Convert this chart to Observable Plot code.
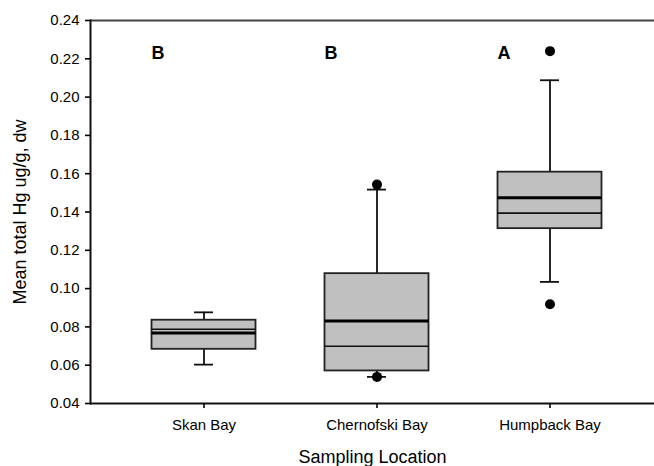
<!DOCTYPE html>
<html>
<head>
<meta charset="utf-8">
<script src="https://cdn.jsdelivr.net/npm/d3@7"></script>
<script src="https://cdn.jsdelivr.net/npm/@observablehq/plot@0.6"></script>
<style>
  html, body { margin: 0; padding: 0; background: white; }
</style>
</head>
<body>
<div id="chart"></div>
<script>
// Data
const locations = ["Skan Bay", "Chernofski Bay", "Humpback Bay"];
const q1Values     = [0.0683, 0.0570, 0.1313];
const q3Values     = [0.0835, 0.1078, 0.1608];
const medianValues = [0.0788, 0.0699, 0.1394]; // thin line
const meanValues   = [0.0768, 0.0831, 0.1475]; // thick line
const whiskerLow   = [0.0603, 0.0539, 0.1035];
const whiskerHigh  = [0.0876, 0.1517, 0.2088];
const outlierLocations = ["Chernofski Bay", "Chernofski Bay", "Humpback Bay", "Humpback Bay"];
const outlierValues    = [0.1543, 0.0539, 0.2240, 0.0918];
const groupLetters = ["B", "B", "A"];
const letterY = 0.2228;
const yTicks = [0.04, 0.06, 0.08, 0.10, 0.12, 0.14, 0.16, 0.18, 0.20, 0.22, 0.24];
const yLabel = "Mean total Hg ug/g, dw";
const xLabel = "Sampling Location";

const boxes = locations.map((loc, i) => ({
  loc, q1: q1Values[i], q3: q3Values[i], median: medianValues[i],
  mean: meanValues[i], lo: whiskerLow[i], hi: whiskerHigh[i], letter: groupLetters[i]
}));
const outliers = outlierLocations.map((loc, i) => ({loc, value: outlierValues[i]}));

const boxInset = 34.5;
const capInset = 77;

const chart = Plot.plot({
  width: 654,
  height: 466,
  marginLeft: 90,
  marginRight: 0,
  marginTop: 20,
  marginBottom: 63,
  style: {fontFamily: "'Liberation Sans', Arial, sans-serif", background: "white", color: "black"},
  x: {domain: locations, range: [116.25, 636.75], padding: 0, label: null},
  y: {domain: [0.04, 0.24], label: null},
  marks: [
    Plot.axisY({ticks: yTicks, tickFormat: d3.format(".2f"), tickSize: 5, tickPadding: 6, fontSize: 15, strokeWidth: 1.6, label: null}),
    Plot.axisX({tickSize: 5, tickPadding: 11, fontSize: 15, strokeWidth: 1.6, label: null}),
    Plot.text([yLabel], {frameAnchor: "left", dx: -70, rotate: -90, textAnchor: "middle", lineAnchor: "middle", fontSize: 18, text: d => d}),
    Plot.text([xLabel], {frameAnchor: "bottom", dy: 54, textAnchor: "middle", lineAnchor: "middle", fontSize: 18, text: d => d}),
    // whiskers
    Plot.ruleX(boxes, {x: "loc", y1: "q3", y2: "hi", stroke: "#111", strokeWidth: 1.8}),
    Plot.ruleX(boxes, {x: "loc", y1: "lo", y2: "q1", stroke: "#111", strokeWidth: 1.8}),
    Plot.tickY(boxes, {x: "loc", y: "hi", insetLeft: capInset, insetRight: capInset, stroke: "#111", strokeWidth: 1.8}),
    Plot.tickY(boxes, {x: "loc", y: "lo", insetLeft: capInset, insetRight: capInset, stroke: "#111", strokeWidth: 1.8}),
    // boxes
    Plot.barY(boxes, {x: "loc", y1: "q1", y2: "q3", fill: "#c0c0c0", stroke: "#222", strokeWidth: 1.8, insetLeft: boxInset, insetRight: boxInset}),
    Plot.tickY(boxes, {x: "loc", y: "median", insetLeft: boxInset, insetRight: boxInset, stroke: "#111", strokeWidth: 1.6}),
    Plot.tickY(boxes, {x: "loc", y: "mean", insetLeft: boxInset, insetRight: boxInset, stroke: "#000", strokeWidth: 3}),
    // outliers
    Plot.dot(outliers, {x: "loc", y: "value", r: 5, fill: "black"}),
    // group letters
    Plot.text(boxes, {x: "loc", y: () => letterY, text: "letter", dx: -46, fontSize: 18, fontWeight: "bold"}),
    // frame lines
    Plot.ruleY([0.24], {stroke: "#444", strokeWidth: 2}),
    Plot.ruleY([0.04], {stroke: "#111", strokeWidth: 2}),
    Plot.frame({anchor: "left", stroke: "#111", strokeWidth: 2})
  ]
});
document.getElementById("chart").appendChild(chart);
</script>
</body>
</html>
